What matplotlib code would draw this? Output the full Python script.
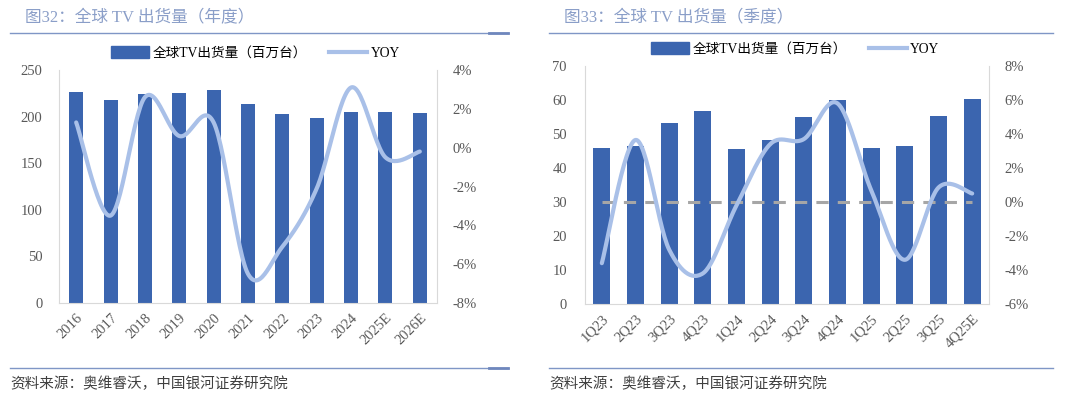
import numpy as np
import matplotlib
matplotlib.use('Agg')
import matplotlib.pyplot as plt
from matplotlib.patches import Patch
from matplotlib.lines import Line2D
from matplotlib.ticker import FuncFormatter

plt.rcParams['font.family'] = ['Liberation Serif', 'Noto Sans CJK SC']

# annual data
years = ['2016', '2017', '2018', '2019', '2020', '2021', '2022', '2023', '2024', '2025E', '2026E']
ship_year = [226.5, 218.0, 224.5, 225.5, 228.2, 213.8, 202.7, 198.5, 205.2, 204.5, 203.8]
yoy_year = [1.3, -3.5, 2.6, 0.6, 1.3, -6.5, -5.1, -2.1, 3.1, -0.5, -0.2]

# quarterly data
quarters = ['1Q23', '2Q23', '3Q23', '4Q23', '1Q24', '2Q24', '3Q24', '4Q24', '1Q25', '2Q25', '3Q25', '4Q25E']
ship_q = [45.8, 46.5, 53.2, 56.8, 45.5, 48.1, 55.1, 60.0, 45.8, 46.4, 55.4, 60.3]
yoy_q = [-3.6, 3.65, -2.8, -4.2, -0.2, 3.4, 3.7, 5.8, 0.7, -3.4, 0.85, 0.5]

BAR = '#3b65af'
LINE = '#a9c0e8'
TXT = '#595959'
TITLE = '#8a9ec8'
RULE = '#7f96c6'

W, H = 1080, 399
fig = plt.figure(figsize=(W / 100, H / 100), dpi=100)


def px_axes(x0, y0, x1, y1):
    # pixel box (top-left origin) -> figure axes
    return fig.add_axes([x0 / W, 1 - y1 / H, (x1 - x0) / W, (y1 - y0) / H])


def smooth(x, y, n=30):
    # excel-like smoothed line (catmull-rom)
    x = np.asarray(x, float)
    y = np.asarray(y, float)
    px = np.concatenate([[x[0]], x, [x[-1]]])
    py = np.concatenate([[y[0]], y, [y[-1]]])
    xs, ys = [], []
    t = np.linspace(0, 1, n)
    for i in range(1, len(px) - 2):
        p0, p1, p2, p3 = [np.array([px[j], py[j]]) for j in range(i - 1, i + 3)]
        c1 = p1 + (p2 - p0) / 6
        c2 = p2 - (p3 - p1) / 6
        pts = ((1 - t) ** 3)[:, None] * p1 + (3 * (1 - t) ** 2 * t)[:, None] * c1 \
            + (3 * (1 - t) * t ** 2)[:, None] * c2 + (t ** 3)[:, None] * p2
        xs.extend(pts[:, 0])
        ys.extend(pts[:, 1])
    return np.array(xs), np.array(ys)


def panel(box, cats, bars, yoy, ylim, yticks, rlim, rticks, bar_w, title, zero_line, xr, lpad, rpad):
    ax = px_axes(*box)
    x = np.arange(len(cats))
    ax.bar(x, bars, width=bar_w, color=BAR, zorder=2)
    ax.set_xlim(-0.5, len(cats) - 0.5)
    ax.set_ylim(*ylim)
    ax.set_yticks(yticks)
    ax.set_xticks(x)
    ax.set_xticklabels(cats, rotation=45, ha='right', rotation_mode='anchor', fontsize=10.5, color=TXT)
    ax.tick_params(axis='both', length=0, labelsize=10.5, labelcolor=TXT)
    ax.tick_params(axis='x', pad=6)
    ax.tick_params(axis='y', pad=lpad)
    ax.spines['top'].set_visible(False)
    for s in ['left', 'right', 'bottom']:
        ax.spines[s].set_color('#d9d9d9')
        ax.spines[s].set_linewidth(0.8)

    ax2 = ax.twinx()
    ax2.set_ylim(*rlim)
    ax2.set_yticks(rticks)
    ax2.yaxis.set_major_formatter(FuncFormatter(lambda v, p: '%d%%' % v))
    ax2.tick_params(axis='y', length=0, labelsize=10.5, labelcolor=TXT, pad=rpad)
    for s in ax2.spines.values():
        s.set_visible(False)
    if zero_line:
        ax2.plot([x[0], x[-1]], [0, 0], color='#a6a6a6', lw=2.2, ls=(0, (4, 3)), zorder=3)
    sx, sy = smooth(x, yoy)
    ax2.plot(sx, sy, color=LINE, lw=3.0, solid_capstyle='round', zorder=4)

    handles = [Patch(color=BAR), Line2D([0], [0], color=LINE, lw=3.0)]
    ax.legend(handles, ['全球TV出货量（百万台）', 'YOY'], loc='lower center',
              bbox_to_anchor=(0.52, 1.0), ncol=2, frameon=False, fontsize=9.8,
              handlelength=2.8, handleheight=0.9, columnspacing=1.6, handletextpad=0.25,
              borderaxespad=0.35)

    # title and rules
    x0, x1 = xr
    fig.text((x0 + 15) / W, 1 - 18 / H, title, fontsize=12, color=TITLE, va='center', ha='left')
    for yy in (33, 368):
        fig.add_artist(Line2D([x0 / W, x1 / W], [1 - yy / H] * 2, color=RULE, lw=1.0))
    fig.text(x0 / W, 1 - 384 / H, '资料来源：奥维睿沃，中国银河证券研究院', fontsize=10.5,
             color='#404040', style='italic', va='center', ha='left')
    return ax


panel((59, 70, 437, 303), years, ship_year, yoy_year, (0, 250), range(0, 251, 50),
      (-8, 4), range(-8, 5, 2), 0.41, '图32：全球 TV 出货量（年度）', False, (10, 508), 12, 11)
panel((585, 66, 989, 304), quarters, ship_q, yoy_q, (0, 70), range(0, 71, 10),
      (-6, 8), range(-6, 9, 2), 0.5, '图33：全球 TV 出货量（季度）', True, (549, 1053), 13, 11)

# small darker tab at the right end of the left rules
for yy in (33, 368):
    fig.add_artist(Line2D([489 / W, 508 / W], [1 - yy / H] * 2, color='#6f87bd', lw=2.0))

fig.savefig('out.png', dpi=100)
